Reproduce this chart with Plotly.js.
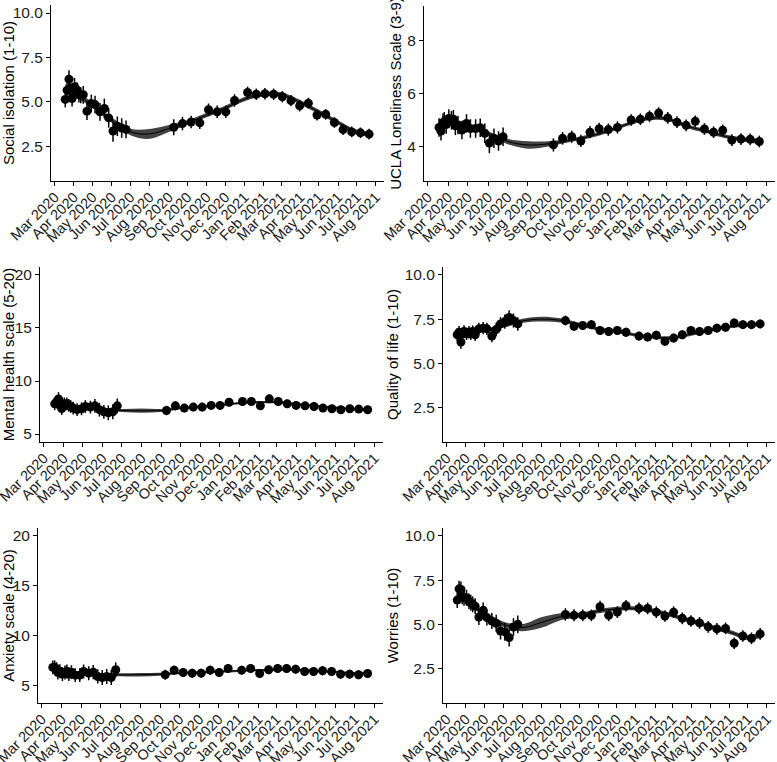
<!DOCTYPE html>
<html><head><meta charset="utf-8">
<script src="https://cdn.plot.ly/plotly-3.0.1.min.js"></script>
<style>html,body{margin:0;padding:0;background:#fff}#chart{width:777px;height:762px}</style>
</head><body><div id="chart"></div>
<script>
// ---- survey wave dates (shared by all panels) ----
const waveDates = ['2020-03-18','2020-03-21','2020-03-24','2020-03-26','2020-03-29','2020-04-02','2020-04-06','2020-04-09','2020-04-12','2020-04-16','2020-04-22','2020-04-29','2020-05-05','2020-05-13','2020-05-20','2020-05-27','2020-06-03','2020-06-10','2020-06-17','2020-06-24',
  '2020-09-09','2020-09-23','2020-10-07','2020-10-21','2020-11-04','2020-11-18','2020-12-02','2020-12-16','2021-01-06','2021-01-20','2021-02-03','2021-02-17','2021-03-03','2021-03-17','2021-03-31','2021-04-14','2021-04-28','2021-05-12','2021-05-26','2021-06-09','2021-06-23','2021-07-07','2021-07-21'];
// dates where the smoothed fit was read
const fitDates = ['2020-03-18','2020-04-01','2020-05-01','2020-06-01','2020-07-01','2020-08-01','2020-09-01','2020-10-01','2020-11-01','2020-12-01','2021-01-01','2021-02-01','2021-03-01','2021-04-01','2021-05-01','2021-06-01','2021-07-01','2021-07-21'];
const monthTicks = ['2020-03-01','2020-04-01','2020-05-01','2020-06-01','2020-07-01','2020-08-01','2020-09-01','2020-10-01','2020-11-01','2020-12-01','2021-01-01','2021-02-01','2021-03-01','2021-04-01','2021-05-01','2021-06-01','2021-07-01','2021-08-01'];
const monthLabels = ['Mar 2020','Apr 2020','May 2020','Jun 2020','Jul 2020','Aug 2020','Sep 2020','Oct 2020','Nov 2020','Dec 2020','Jan 2021','Feb 2021','Mar 2021','Apr 2021','May 2021','Jun 2021','Jul 2021','Aug 2021'];

// ---- y tick sets ----
const tenTicks = [2.5,5,7.5,10];      const tenLabels = ['2.5','5.0','7.5','10.0'];
const uclaTicks = [4,6,8];            const uclaLabels = ['4','6','8'];
const twentyTicks = [5,10,15,20];     const twentyLabels = ['5','10','15','20'];

// ---- Social isolation (1-10) ----
const isoVals = [5.14,5.66,6.28,5.76,5.19,5.85,5.66,5.42,5.38,5.40,4.48,4.91,4.85,4.44,4.63,4.10,3.36,3.63,3.53,3.45,
  3.57,3.78,3.87,3.82,4.56,4.44,4.44,5.08,5.53,5.43,5.46,5.43,5.29,5.07,4.78,4.93,4.26,4.30,3.84,3.44,3.31,3.26,3.19];
const isoErr = [0.45,0.5,0.5,0.45,0.45,0.5,0.45,0.45,0.45,0.5,0.5,0.5,0.5,0.5,0.55,0.55,0.6,0.55,0.55,0.5,
  0.45,0.38,0.35,0.35,0.35,0.35,0.35,0.35,0.33,0.32,0.32,0.32,0.32,0.32,0.32,0.3,0.3,0.3,0.3,0.3,0.3,0.3,0.3];
const isoFit = [5.70,5.47,4.82,3.97,3.31,3.20,3.50,3.84,4.25,4.66,5.15,5.43,5.42,4.98,4.44,3.84,3.31,3.18];
const isoLo  = [5.40,5.27,4.67,3.82,3.13,2.92,3.30,3.71,4.13,4.54,5.03,5.31,5.30,4.86,4.32,3.72,3.18,3.03];
const isoHi  = [6.00,5.67,4.97,4.12,3.49,3.48,3.70,3.97,4.37,4.78,5.27,5.55,5.54,5.10,4.56,3.96,3.44,3.33];

// ---- UCLA Loneliness Scale (3-9) ----
const uclaVals = [4.72,4.58,4.87,4.95,4.83,5.06,4.99,5.03,4.78,4.81,4.62,4.87,4.68,4.68,4.71,4.50,4.13,4.31,4.21,4.37,
  4.06,4.31,4.37,4.21,4.54,4.67,4.64,4.72,5.00,5.03,5.14,5.26,5.08,4.92,4.80,4.95,4.66,4.54,4.61,4.24,4.28,4.27,4.19];
const uclaErr = [0.35,0.35,0.38,0.35,0.35,0.35,0.35,0.35,0.35,0.35,0.35,0.35,0.35,0.35,0.35,0.37,0.38,0.37,0.37,0.35,
  0.25,0.24,0.23,0.23,0.23,0.23,0.23,0.23,0.22,0.22,0.22,0.22,0.22,0.22,0.22,0.22,0.22,0.22,0.22,0.22,0.22,0.22,0.22];
const uclaFit = [4.90,4.87,4.72,4.50,4.19,4.06,4.10,4.22,4.37,4.58,4.85,5.06,5.05,4.77,4.58,4.37,4.25,4.19];
const uclaLo  = [4.75,4.77,4.64,4.42,4.09,3.92,4.00,4.15,4.30,4.51,4.78,4.99,4.98,4.70,4.51,4.30,4.17,4.09];
const uclaHi  = [5.05,4.97,4.80,4.58,4.29,4.20,4.20,4.29,4.44,4.65,4.92,5.13,5.12,4.84,4.65,4.44,4.33,4.29];

// ---- Mental health scale (5-20) ----
const mentVals = [7.85,8.05,8.30,7.70,7.40,7.85,7.85,7.70,7.60,7.45,7.30,7.38,7.60,7.54,7.66,7.30,7.10,7.00,7.10,7.66,
  7.22,7.66,7.45,7.54,7.54,7.70,7.70,8.00,8.07,8.07,7.66,8.32,8.07,7.85,7.70,7.66,7.60,7.45,7.38,7.29,7.38,7.35,7.29];
const mentErr = [0.6,0.6,0.65,0.6,0.6,0.6,0.6,0.6,0.6,0.6,0.6,0.6,0.6,0.6,0.65,0.65,0.65,0.7,0.7,0.7,
  0.45,0.42,0.4,0.4,0.4,0.4,0.4,0.4,0.38,0.38,0.38,0.38,0.38,0.38,0.38,0.36,0.36,0.36,0.36,0.36,0.36,0.36,0.36];
const mentFit = [7.85,7.70,7.50,7.35,7.22,7.20,7.22,7.45,7.57,7.73,7.92,8.00,8.00,7.82,7.66,7.48,7.35,7.30];
const mentLo  = [7.60,7.55,7.40,7.25,7.07,7.00,7.07,7.33,7.46,7.62,7.81,7.89,7.89,7.71,7.55,7.37,7.23,7.15];
const mentHi  = [8.10,7.85,7.60,7.45,7.37,7.40,7.37,7.57,7.68,7.84,8.03,8.11,8.11,7.93,7.77,7.59,7.47,7.45];

// ---- Quality of life (1-10) ----
const qolVals = [6.62,6.76,6.21,6.67,6.80,6.67,6.76,6.67,6.80,6.62,6.95,6.99,6.95,6.54,6.91,7.23,7.36,7.60,7.42,7.23,
  7.42,7.10,7.14,7.19,6.86,6.80,6.86,6.76,6.54,6.49,6.59,6.24,6.43,6.62,6.86,6.80,6.86,6.99,7.04,7.28,7.19,7.19,7.23];
const qolErr = [0.35,0.35,0.38,0.35,0.35,0.35,0.35,0.35,0.35,0.35,0.35,0.35,0.35,0.35,0.38,0.38,0.4,0.4,0.4,0.38,
  0.28,0.26,0.25,0.25,0.25,0.25,0.25,0.25,0.25,0.25,0.25,0.25,0.25,0.25,0.25,0.25,0.25,0.25,0.25,0.25,0.25,0.25,0.25];
const qolFit = [6.62,6.68,6.88,7.10,7.40,7.50,7.43,7.20,6.95,6.80,6.60,6.47,6.45,6.65,6.88,7.07,7.18,7.22];
const qolLo  = [6.47,6.58,6.79,7.01,7.28,7.36,7.31,7.10,6.86,6.71,6.51,6.38,6.36,6.56,6.79,6.98,7.09,7.10];
const qolHi  = [6.77,6.78,6.97,7.19,7.52,7.64,7.55,7.30,7.04,6.89,6.69,6.56,6.54,6.74,6.97,7.16,7.27,7.34];

// ---- Anxiety scale (4-20) ----
const anxVals = [6.78,6.78,6.60,6.27,6.40,6.10,6.27,6.37,6.10,6.30,6.00,6.00,6.37,6.20,6.30,5.87,5.77,5.87,5.77,6.54,
  6.04,6.50,6.27,6.20,6.20,6.50,6.27,6.67,6.50,6.67,6.17,6.54,6.67,6.67,6.60,6.37,6.37,6.44,6.37,6.10,6.10,6.04,6.17];
const anxErr = [0.7,0.7,0.7,0.7,0.7,0.7,0.7,0.7,0.7,0.7,0.7,0.7,0.7,0.7,0.72,0.72,0.75,0.75,0.75,0.75,
  0.5,0.48,0.45,0.45,0.45,0.45,0.45,0.45,0.45,0.45,0.45,0.45,0.45,0.45,0.45,0.45,0.45,0.45,0.45,0.45,0.45,0.45,0.45];
const anxFit = [6.45,6.35,6.18,6.07,6.03,6.04,6.10,6.20,6.28,6.36,6.44,6.50,6.54,6.54,6.44,6.34,6.20,6.16];
const anxLo  = [6.20,6.20,6.06,5.95,5.88,5.86,5.95,6.08,6.17,6.25,6.33,6.39,6.43,6.43,6.33,6.23,6.08,6.01];
const anxHi  = [6.70,6.50,6.30,6.19,6.18,6.22,6.25,6.32,6.39,6.47,6.55,6.61,6.65,6.65,6.55,6.45,6.32,6.31];

// ---- Worries (1-10) ----
const worVals = [6.37,7.01,6.97,6.59,6.50,6.50,6.30,6.22,6.13,6.03,5.41,5.79,5.38,5.19,5.06,4.62,4.57,4.25,4.85,5.00,
  5.56,5.51,5.51,5.51,6.00,5.51,5.69,6.05,5.90,5.90,5.69,5.47,5.69,5.34,5.19,5.08,4.86,4.74,4.77,3.93,4.34,4.21,4.46];
const worErr = [0.45,0.45,0.45,0.45,0.45,0.45,0.45,0.45,0.45,0.45,0.45,0.45,0.45,0.45,0.48,0.48,0.5,0.5,0.5,0.5,
  0.35,0.34,0.33,0.33,0.33,0.33,0.33,0.33,0.33,0.33,0.33,0.33,0.33,0.33,0.33,0.33,0.33,0.33,0.33,0.33,0.33,0.33,0.33];
const worFit = [6.78,6.45,5.56,5.00,4.81,5.10,5.43,5.52,5.75,5.88,5.90,5.75,5.50,5.19,4.87,4.57,4.25,4.38];
const worLo  = [6.48,6.25,5.41,4.85,4.61,4.80,5.23,5.39,5.63,5.76,5.78,5.63,5.38,5.07,4.75,4.45,4.12,4.21];
const worHi  = [7.08,6.65,5.71,5.15,5.01,5.40,5.63,5.65,5.87,6.00,6.02,5.87,5.62,5.31,4.99,4.69,4.38,4.55];

// ---- layout (pixel boxes of each panel) ----
const W = 777, H = 762;
const FONT = '"Liberation Sans", Arial, sans-serif';
const xRange = ['2020-02-24','2021-08-14'];
const panels = [
  {title:'Social isolation (1-10)', vals:isoVals, err:isoErr, fit:isoFit, lo:isoLo, hi:isoHi, yr:[0.55,10.45], yt:tenTicks, ytt:tenLabels, px:[51,384], py:[5,181]},
  {title:'UCLA Loneliness Scale (3-9)', vals:uclaVals, err:uclaErr, fit:uclaFit, lo:uclaLo, hi:uclaHi, yr:[2.7,9.3], yt:uclaTicks, ytt:uclaLabels, px:[424,775], py:[6,181]},
  {title:'Mental health scale (5-20)', vals:mentVals, err:mentErr, fit:mentFit, lo:mentLo, hi:mentHi, yr:[4.25,20.75], yt:twentyTicks, ytt:twentyLabels, px:[40,383], py:[267,442]},
  {title:'Quality of life (1-10)', vals:qolVals, err:qolErr, fit:qolFit, lo:qolLo, hi:qolHi, yr:[0.55,10.45], yt:tenTicks, ytt:tenLabels, px:[443,775], py:[267,442]},
  {title:'Anxiety scale (4-20)', vals:anxVals, err:anxErr, fit:anxFit, lo:anxLo, hi:anxHi, yr:[3.2,20.8], yt:twentyTicks, ytt:twentyLabels, px:[38,383], py:[528,703]},
  {title:'Worries (1-10)', vals:worVals, err:worErr, fit:worFit, lo:worLo, hi:worHi, yr:[0.55,10.45], yt:tenTicks, ytt:tenLabels, px:[443,775], py:[528,703]}
];

const data = [];
const layout = {
  width: W, height: H, margin:{l:0,r:0,t:0,b:0},
  paper_bgcolor:'#fff', plot_bgcolor:'#fff', showlegend:false,
  font:{family:FONT, color:'#000'}
};
panels.forEach((p,i) => {
  const s = i === 0 ? '' : String(i+1);
  const xa = 'x'+s, ya = 'y'+s;
  data.push({x:fitDates, y:p.hi, xaxis:xa, yaxis:ya, mode:'lines', line:{width:0, shape:'spline', smoothing:1}, hoverinfo:'skip'});
  data.push({x:fitDates, y:p.lo, xaxis:xa, yaxis:ya, mode:'lines', line:{width:0, shape:'spline', smoothing:1}, fill:'tonexty', fillcolor:'rgba(0,0,0,0.74)', hoverinfo:'skip'});
  data.push({x:fitDates, y:p.fit, xaxis:xa, yaxis:ya, mode:'lines', line:{width:1, color:'#000', shape:'spline', smoothing:1}, hoverinfo:'skip'});
  data.push({x:waveDates, y:p.vals, xaxis:xa, yaxis:ya, mode:'markers', marker:{size:9, color:'#000'},
    error_y:{type:'data', array:p.err, visible:true, color:'#000', thickness:1.5, width:0}});
  layout['xaxis'+s] = {
    domain:[p.px[0]/W, p.px[1]/W], anchor:ya, type:'date', range:xRange,
    tickmode:'array', tickvals:monthTicks, ticktext:monthLabels, tickangle:-45,
    ticklabeloverflow:'allow', ticklabelstandoff:-3,
    ticks:'outside', ticklen:4, tickwidth:1, tickcolor:'#000',
    showline:true, linecolor:'#000', linewidth:1, showgrid:false, zeroline:false,
    tickfont:{family:FONT, size:14.5, color:'#1a1a1a'}, fixedrange:true
  };
  layout['yaxis'+s] = {
    domain:[1 - p.py[1]/H, 1 - p.py[0]/H], anchor:xa, range:p.yr,
    tickmode:'array', tickvals:p.yt, ticktext:p.ytt,
    ticks:'outside', ticklen:4, tickwidth:1, tickcolor:'#000',
    showline:true, linecolor:'#000', linewidth:1, showgrid:false, zeroline:false,
    tickfont:{family:FONT, size:15.5, color:'#1a1a1a'},
    title:{text:p.title, font:{family:FONT, size:15, color:'#000'}, standoff:2},
    fixedrange:true
  };
});
Plotly.newPlot('chart', data, layout, {displayModeBar:false, staticPlot:true});
</script>
</body></html>
